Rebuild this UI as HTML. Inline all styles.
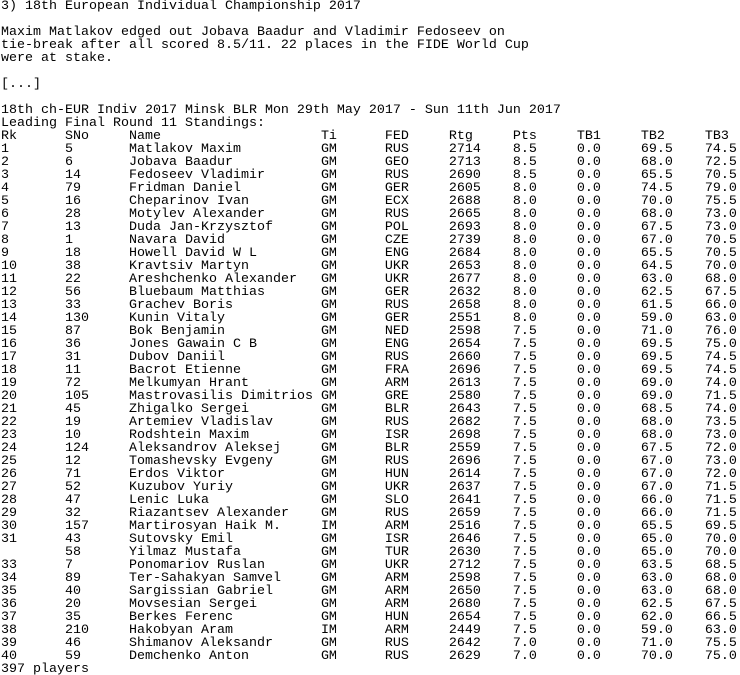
<!DOCTYPE html>
<html><head><meta charset="utf-8"><style>
html,body{margin:0;padding:0;background:#fff;width:740px;height:675px;overflow:hidden}
pre{margin:0;padding:0 0 0 1px;font-family:"Liberation Mono","DejaVu Sans Mono",monospace;font-size:13.33px;line-height:13px;color:#000;tab-size:8;-moz-tab-size:8;white-space:pre}
</style></head><body>
<pre><span>3) 18th European Individual Championship 2017</span>

<span>Maxim Matlakov edged out Jobava Baadur and Vladimir Fedoseev on
tie-break after all scored 8.5/11. 22 places in the FIDE World Cup
were at stake.</span>

<span>[...]</span>

<span>18th ch-EUR Indiv 2017 Minsk BLR Mon 29th May 2017 - Sun 11th Jun 2017</span>
<span>Leading Final Round 11 Standings:</span>
<span>Rk&#9;SNo&#9;Name&#9;&#9;&#9;Ti&#9;FED&#9;Rtg&#9;Pts&#9;TB1&#9;TB2&#9;TB3</span>
<span>1&#9;5&#9;Matlakov Maxim&#9;&#9;GM&#9;RUS&#9;2714&#9;8.5&#9;0.0&#9;69.5&#9;74.5</span>
<span>2&#9;6&#9;Jobava Baadur&#9;&#9;GM&#9;GEO&#9;2713&#9;8.5&#9;0.0&#9;68.0&#9;72.5</span>
<span>3&#9;14&#9;Fedoseev Vladimir&#9;GM&#9;RUS&#9;2690&#9;8.5&#9;0.0&#9;65.5&#9;70.5</span>
<span>4&#9;79&#9;Fridman Daniel&#9;&#9;GM&#9;GER&#9;2605&#9;8.0&#9;0.0&#9;74.5&#9;79.0</span>
<span>5&#9;16&#9;Cheparinov Ivan&#9;&#9;GM&#9;ECX&#9;2688&#9;8.0&#9;0.0&#9;70.0&#9;75.5</span>
<span>6&#9;28&#9;Motylev Alexander&#9;GM&#9;RUS&#9;2665&#9;8.0&#9;0.0&#9;68.0&#9;73.0</span>
<span>7&#9;13&#9;Duda Jan-Krzysztof&#9;GM&#9;POL&#9;2693&#9;8.0&#9;0.0&#9;67.5&#9;73.0</span>
<span>8&#9;1&#9;Navara David&#9;&#9;GM&#9;CZE&#9;2739&#9;8.0&#9;0.0&#9;67.0&#9;70.5</span>
<span>9&#9;18&#9;Howell David W L&#9;GM&#9;ENG&#9;2684&#9;8.0&#9;0.0&#9;65.5&#9;70.5</span>
<span>10&#9;38&#9;Kravtsiv Martyn&#9;&#9;GM&#9;UKR&#9;2653&#9;8.0&#9;0.0&#9;64.5&#9;70.0</span>
<span>11&#9;22&#9;Areshchenko Alexander&#9;GM&#9;UKR&#9;2677&#9;8.0&#9;0.0&#9;63.0&#9;68.0</span>
<span>12&#9;56&#9;Bluebaum Matthias&#9;GM&#9;GER&#9;2632&#9;8.0&#9;0.0&#9;62.5&#9;67.5</span>
<span>13&#9;33&#9;Grachev Boris&#9;&#9;GM&#9;RUS&#9;2658&#9;8.0&#9;0.0&#9;61.5&#9;66.0</span>
<span>14&#9;130&#9;Kunin Vitaly&#9;&#9;GM&#9;GER&#9;2551&#9;8.0&#9;0.0&#9;59.0&#9;63.0</span>
<span>15&#9;87&#9;Bok Benjamin&#9;&#9;GM&#9;NED&#9;2598&#9;7.5&#9;0.0&#9;71.0&#9;76.0</span>
<span>16&#9;36&#9;Jones Gawain C B&#9;GM&#9;ENG&#9;2654&#9;7.5&#9;0.0&#9;69.5&#9;75.0</span>
<span>17&#9;31&#9;Dubov Daniil&#9;&#9;GM&#9;RUS&#9;2660&#9;7.5&#9;0.0&#9;69.5&#9;74.5</span>
<span>18&#9;11&#9;Bacrot Etienne&#9;&#9;GM&#9;FRA&#9;2696&#9;7.5&#9;0.0&#9;69.5&#9;74.5</span>
<span>19&#9;72&#9;Melkumyan Hrant&#9;&#9;GM&#9;ARM&#9;2613&#9;7.5&#9;0.0&#9;69.0&#9;74.0</span>
<span>20&#9;105&#9;Mastrovasilis Dimitrios&#9;GM&#9;GRE&#9;2580&#9;7.5&#9;0.0&#9;69.0&#9;71.5</span>
<span>21&#9;45&#9;Zhigalko Sergei&#9;&#9;GM&#9;BLR&#9;2643&#9;7.5&#9;0.0&#9;68.5&#9;74.0</span>
<span>22&#9;19&#9;Artemiev Vladislav&#9;GM&#9;RUS&#9;2682&#9;7.5&#9;0.0&#9;68.0&#9;73.5</span>
<span>23&#9;10&#9;Rodshtein Maxim&#9;&#9;GM&#9;ISR&#9;2698&#9;7.5&#9;0.0&#9;68.0&#9;73.0</span>
<span>24&#9;124&#9;Aleksandrov Aleksej&#9;GM&#9;BLR&#9;2559&#9;7.5&#9;0.0&#9;67.5&#9;72.0</span>
<span>25&#9;12&#9;Tomashevsky Evgeny&#9;GM&#9;RUS&#9;2696&#9;7.5&#9;0.0&#9;67.0&#9;73.0</span>
<span>26&#9;71&#9;Erdos Viktor&#9;&#9;GM&#9;HUN&#9;2614&#9;7.5&#9;0.0&#9;67.0&#9;72.0</span>
<span>27&#9;52&#9;Kuzubov Yuriy&#9;&#9;GM&#9;UKR&#9;2637&#9;7.5&#9;0.0&#9;67.0&#9;71.5</span>
<span>28&#9;47&#9;Lenic Luka&#9;&#9;GM&#9;SLO&#9;2641&#9;7.5&#9;0.0&#9;66.0&#9;71.5</span>
<span>29&#9;32&#9;Riazantsev Alexander&#9;GM&#9;RUS&#9;2659&#9;7.5&#9;0.0&#9;66.0&#9;71.5</span>
<span>30&#9;157&#9;Martirosyan Haik M.&#9;IM&#9;ARM&#9;2516&#9;7.5&#9;0.0&#9;65.5&#9;69.5</span>
<span>31&#9;43&#9;Sutovsky Emil&#9;&#9;GM&#9;ISR&#9;2646&#9;7.5&#9;0.0&#9;65.0&#9;70.0</span>
<span>&#9;58&#9;Yilmaz Mustafa&#9;&#9;GM&#9;TUR&#9;2630&#9;7.5&#9;0.0&#9;65.0&#9;70.0</span>
<span>33&#9;7&#9;Ponomariov Ruslan&#9;GM&#9;UKR&#9;2712&#9;7.5&#9;0.0&#9;63.5&#9;68.5</span>
<span>34&#9;89&#9;Ter-Sahakyan Samvel&#9;GM&#9;ARM&#9;2598&#9;7.5&#9;0.0&#9;63.0&#9;68.0</span>
<span>35&#9;40&#9;Sargissian Gabriel&#9;GM&#9;ARM&#9;2650&#9;7.5&#9;0.0&#9;63.0&#9;68.0</span>
<span>36&#9;20&#9;Movsesian Sergei&#9;GM&#9;ARM&#9;2680&#9;7.5&#9;0.0&#9;62.5&#9;67.5</span>
<span>37&#9;35&#9;Berkes Ferenc&#9;&#9;GM&#9;HUN&#9;2654&#9;7.5&#9;0.0&#9;62.0&#9;66.5</span>
<span>38&#9;210&#9;Hakobyan Aram&#9;&#9;IM&#9;ARM&#9;2449&#9;7.5&#9;0.0&#9;59.0&#9;63.0</span>
<span>39&#9;46&#9;Shimanov Aleksandr&#9;GM&#9;RUS&#9;2642&#9;7.0&#9;0.0&#9;71.0&#9;75.5</span>
<span>40&#9;59&#9;Demchenko Anton&#9;&#9;GM&#9;RUS&#9;2629&#9;7.0&#9;0.0&#9;70.0&#9;75.0</span>
<span>397 players</span></pre>
</body></html>
